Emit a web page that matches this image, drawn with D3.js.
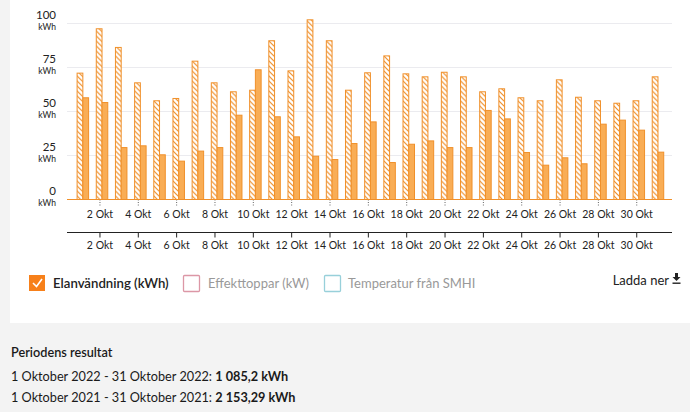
<!DOCTYPE html>
<html>
<head>
<meta charset="utf-8">
<script src="https://cdn.jsdelivr.net/npm/d3@7"></script>
<style>
  html, body { margin: 0; padding: 0; background: #f3f3f3; }
  svg { display: block; font-family: Lato, "Noto Sans", sans-serif; }
</style>
</head>
<body>
<svg id="chart" width="690" height="412"></svg>
<script>
// ---- data ----
const days = d3.range(1, 32);
const values2021 = [71.8, 97.0, 86.4, 66.3, 56.1, 57.4, 78.6, 66.3, 61.2, 62.1,
                    90.2, 73.1, 102.1, 90.2, 62.1, 72.0, 81.6, 71.4, 69.7, 72.3,
                    69.7, 61.2, 62.9, 57.8, 56.1, 68.0, 58.1, 56.1, 54.7, 56.1, 69.7];
const values2022 = [57.8, 55.1, 29.5, 30.5, 25.4, 21.8, 27.5, 29.5, 47.9, 73.7,
                    47.0, 35.6, 24.6, 22.7, 31.8, 44.1, 21.0, 31.4, 33.3, 29.5,
                    29.5, 50.6, 45.8, 26.7, 19.5, 23.7, 20.3, 42.8, 45.1, 39.4, 26.9];
const yTicks = [0, 25, 50, 75, 100];
const xTicks = d3.range(2, 31, 2);
const monthLabel = "Okt";
const legendItems = ["Elanvändning (kWh)", "Effekttoppar (kW)", "Temperatur från SMHI"];
const periodTitle = "Periodens resultat";
const periodRows = [
  ["1 Oktober 2022 - 31 Oktober 2022: ", "1 085,2 kWh"],
  ["1 Oktober 2021 - 31 Oktober 2021: ", "2 153,29 kWh"]
];

const svg = d3.select("#chart");
const orange = "#f0902a";
const orangeFill = "#f9ad55";

// card background
svg.append("rect").attr("x", 10).attr("y", -6).attr("width", 690).attr("height", 329)
  .attr("fill", "#ffffff");

// hatch pattern
const defs = svg.append("defs");
const pat = defs.append("pattern").attr("id", "hatch")
  .attr("patternUnits", "userSpaceOnUse").attr("width", 5).attr("height", 5);
pat.append("rect").attr("width", 5).attr("height", 5).attr("fill", "#fff");
pat.append("path").attr("d", "M-1,-1 L6,6 M-1,4 L1,6 M4,-1 L6,1")
  .attr("stroke", orange).attr("stroke-width", 1.2);

// scales
const x = d3.scaleBand().domain(days).range([71.2, 665.5]).padding(0);
const x1 = d3.scaleBand().domain(["h", "s"]).range([5.9, 17.4]).padding(0);
const y = d3.scaleLinear().domain([0, 100]).range([199.5, 23.5]);
const gridX0 = 67, gridX1 = 672;

// gridlines
svg.append("g").selectAll("line").data(yTicks.filter(d => d > 0)).join("line")
  .attr("x1", gridX0).attr("x2", gridX1)
  .attr("y1", d => y(d)).attr("y2", d => y(d))
  .attr("stroke", "#ebebef").attr("stroke-width", 1.2);

// y labels
const yl = svg.append("g").attr("fill", "#222");
yl.selectAll("text.num").data(yTicks).join("text").attr("class", "num")
  .attr("x", 56).attr("y", d => y(d) - 5)
  .attr("text-anchor", "end").attr("font-size", 11.5).text(d => d);
yl.selectAll("text.unit").data(yTicks).join("text").attr("class", "unit")
  .attr("x", 56).attr("y", d => y(d) + 6)
  .attr("text-anchor", "end").attr("font-size", 8.5).text("kWh");

// bars
const groups = svg.append("g").selectAll("g").data(days).join("g")
  .attr("transform", d => `translate(${x(d)},0)`);
groups.append("rect")
  .attr("x", x1("h")).attr("width", x1.bandwidth())
  .attr("y", (d, i) => y(values2021[i])).attr("height", (d, i) => y(0) - y(values2021[i]))
  .attr("fill", "url(#hatch)").attr("stroke", orange).attr("stroke-width", 1);
groups.append("rect")
  .attr("x", x1("s")).attr("width", x1.bandwidth())
  .attr("y", (d, i) => y(values2022[i])).attr("height", (d, i) => y(0) - y(values2022[i]))
  .attr("fill", orangeFill).attr("stroke", orange).attr("stroke-width", 1);

// upper axis
const ax1 = svg.append("g").attr("transform", `translate(0,${y(0)})`)
  .call(d3.axisBottom(x).tickValues(xTicks).tickSize(6).tickPadding(5)
    .tickFormat(d => `${d} ${monthLabel}`));
ax1.select(".domain").remove();
ax1.selectAll(".tick line").attr("stroke", "#666").attr("stroke-dasharray", "1,1.5");
ax1.selectAll(".tick text").attr("font-size", 10.5).attr("fill", "#222").attr("font-family", "Lato, sans-serif");
svg.append("line").attr("x1", gridX0).attr("x2", gridX1).attr("y1", y(0)).attr("y2", y(0))
  .attr("stroke", orange).attr("stroke-width", 1.2);

// lower axis
const ax2 = svg.append("g").attr("transform", "translate(0,232.5)")
  .call(d3.axisBottom(x).tickValues(xTicks).tickSize(5).tickPadding(4)
    .tickFormat(d => `${d} ${monthLabel}`));
ax2.select(".domain").remove();
ax2.selectAll(".tick line").attr("stroke", "#222");
ax2.selectAll(".tick text").attr("font-size", 10.5).attr("fill", "#222").attr("font-family", "Lato, sans-serif");
svg.append("line").attr("x1", gridX0).attr("x2", gridX1).attr("y1", 232.5).attr("y2", 232.5)
  .attr("stroke", "#222").attr("stroke-width", 1);

// legend
const lg = svg.append("g");
// item 1 (checked)
lg.append("rect").attr("x", 29).attr("y", 275).attr("width", 16).attr("height", 16)
  .attr("fill", "#f7801a");
lg.append("path").attr("d", "M33,283 L36.5,286.5 L42,279")
  .attr("fill", "none").attr("stroke", "#fff").attr("stroke-width", 1.6);
lg.append("text").attr("x", 53).attr("y", 288).attr("font-size", 13.2).attr("font-weight", 600)
  .attr("fill", "#222").text(legendItems[0]);
// item 2
lg.append("rect").attr("x", 183.5).attr("y", 275.5).attr("width", 16).attr("height", 16)
  .attr("fill", "#fff").attr("stroke", "#dc97a6").attr("stroke-width", 1.3).attr("rx", 1);
lg.append("text").attr("x", 208).attr("y", 288).attr("font-size", 13)
  .attr("fill", "#999").text(legendItems[1]);
// item 3
lg.append("rect").attr("x", 324.5).attr("y", 275.5).attr("width", 16).attr("height", 16)
  .attr("fill", "#fff").attr("stroke", "#98d0da").attr("stroke-width", 1.3).attr("rx", 1);
lg.append("text").attr("x", 348).attr("y", 288).attr("font-size", 13)
  .attr("fill", "#999").text(legendItems[2]);

// download
lg.append("text").attr("x", 669).attr("y", 285).attr("text-anchor", "end")
  .attr("font-size", 13).attr("fill", "#222").text("Ladda ner");
lg.append("path").attr("d", "M675,273 L678,273 L678,277 L680.5,277 L676.5,281 L672.5,277 L675,277 Z")
  .attr("fill", "#222");
lg.append("rect").attr("x", 672.5).attr("y", 282.5).attr("width", 8).attr("height", 1.4).attr("fill", "#222");

// period results
const pr = svg.append("g").attr("fill", "#1a1a1a").attr("font-size", 12.7);
pr.append("text").attr("x", 11).attr("y", 357).attr("font-weight", 600).text(periodTitle);
periodRows.forEach((r, i) => {
  const t = pr.append("text").attr("x", 11).attr("y", 381 + i * 21);
  t.append("tspan").text(r[0]);
  t.append("tspan").attr("font-weight", 700).text(r[1]);
});
</script>
</body>
</html>
